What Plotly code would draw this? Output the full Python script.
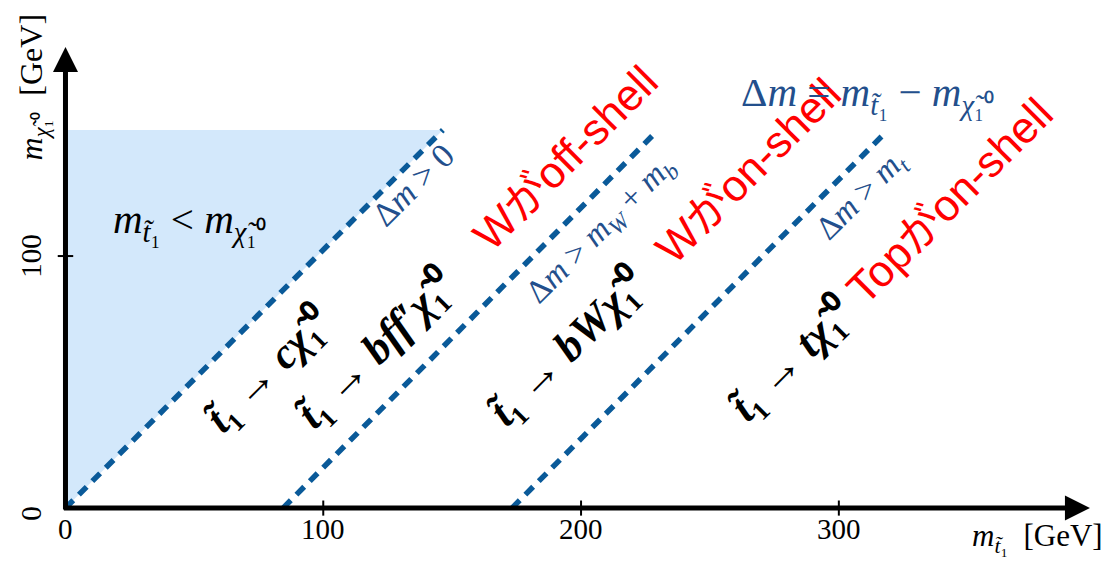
import plotly.graph_objects as go

# ---- data (GeV) ----
x_ticks = [0, 100, 200, 300]
x_tick_labels = ["0", "100", "200", "300"]
y_ticks = [0, 100]
y_tick_labels = ["0", "100"]

region_x = [0, 0, 146.4]
region_y = [0, 150, 150]

boundary_x0 = [0, 84.4, 173.2]
boundary_x1 = [146.4, 228.7, 317.9]
boundary_y1 = [150, 148.8, 148.8]

x_axis_end = 397.4
y_axis_end = 183.0

SERIF = "Liberation Serif"
SANS = "Liberation Sans, Noto Sans CJK JP"
BLUE_TXT = "#234f8c"
LINE_BLUE = "#0a5a99"
FILL = "#d3e8fb"
RED = "#ff0000"

fig = go.Figure()

# shaded region m_stop < m_chi
fig.add_trace(go.Scatter(x=region_x + [region_x[0]], y=region_y + [region_y[0]],
                         fill="toself", fillcolor=FILL, mode="none",
                         hoverinfo="skip", showlegend=False))

# kinematic boundaries
for x0, x1, y1 in zip(boundary_x0, boundary_x1, boundary_y1):
    fig.add_trace(go.Scatter(x=[x0, x1], y=[0, y1], mode="lines",
                             line=dict(color=LINE_BLUE, width=5.5, dash="11px,8px"),
                             hoverinfo="skip", showlegend=False))

# tick marks
for t in x_ticks[1:]:
    fig.add_trace(go.Scatter(x=[t, t], y=[-3, 3], mode="lines",
                             line=dict(color="black", width=2),
                             hoverinfo="skip", showlegend=False))
for t in y_ticks[1:]:
    fig.add_trace(go.Scatter(x=[-3, 3], y=[t, t], mode="lines",
                             line=dict(color="black", width=2),
                             hoverinfo="skip", showlegend=False))

annotations = []

# axes with arrows
annotations.append(dict(x=x_axis_end, y=0, ax=-1.2, ay=0, xref="x", yref="y",
                        axref="x", ayref="y", showarrow=True, arrowhead=2,
                        arrowsize=1.0, arrowwidth=5, arrowcolor="black", text=""))
annotations.append(dict(x=0, y=y_axis_end, ax=0, ay=-1.2, xref="x", yref="y",
                        axref="x", ayref="y", showarrow=True, arrowhead=2,
                        arrowsize=1.0, arrowwidth=5, arrowcolor="black", text=""))

# tick labels
for t, lab in zip(x_ticks, x_tick_labels):
    annotations.append(dict(x=t, y=-8.5, text=lab, showarrow=False,
                            font=dict(family=SERIF, size=29, color="black")))
for t, lab in zip(y_ticks, y_tick_labels):
    yy = t if t > 0 else -2.0
    annotations.append(dict(x=-13.5, y=yy, text=lab, showarrow=False, textangle=-90,
                            font=dict(family=SERIF, size=29, color="black")))

# axis titles
annotations.append(dict(x=377, y=-12.0,
                        text="<i>m</i><sub><i>t̃</i>₁</sub>  [GeV]",
                        showarrow=False, font=dict(family=SERIF, size=31, color="black")))
annotations.append(dict(x=-12.5, y=167,
                        text="<i>m</i><sub><i>χ̃</i>₁⁰</sub>  [GeV]",
                        showarrow=False, textangle=-90,
                        font=dict(family=SERIF, size=32, color="black")))

def add(x, y, text, size, color, family=SERIF, angle=-45):
    annotations.append(dict(x=x, y=y, text=text, showarrow=False, textangle=angle,
                            xanchor="center", yanchor="middle",
                            font=dict(family=family, size=size, color=color)))

add(48, 113.5, "<i>m</i><sub><i>t̃</i>₁</sub> &lt; <i>m</i><sub><i>χ̃</i>₁⁰</sub>",
    41, "black", angle=0)
add(135, 128.5, "Δ<i>m</i> &gt; 0", 34, BLUE_TXT)
add(78.5, 55, "<b><i>t̃</i>₁ → <i>cχ̃</i>₁⁰</b>", 43, "black")
add(120.5, 63.5, "<b><i>t̃</i>₁ → <i>bff′χ̃</i>₁⁰</b>", 44, "black")
add(194, 139, "Wがoff-shell", 44, RED, family=SANS)
add(208, 110, "Δ<i>m</i> &gt; <i>m<sub>W</sub></i> + <i>m<sub>b</sub></i>", 33, BLUE_TXT)
add(195, 64, "<b><i>t̃</i>₁ → <i>bWχ̃</i>₁⁰</b>", 44, "black")
add(264.7, 134, "Wがon-shell", 44, RED, family=SANS)
add(311, 164, "Δ<i>m</i> = <i>m</i><sub><i>t̃</i>₁</sub> − <i>m</i><sub><i>χ̃</i>₁⁰</sub>",
    41, BLUE_TXT, angle=0)
add(309, 123.5, "Δ<i>m</i> &gt; <i>m<sub>t</sub></i>", 33, BLUE_TXT)
add(281.5, 59, "<b><i>t̃</i>₁ → <i>tχ̃</i>₁⁰</b>", 44, "black")
add(343, 122, "Topがon-shell", 44, RED, family=SANS)

fig.update_layout(
    width=1109, height=562,
    margin=dict(l=0, r=0, t=0, b=0),
    paper_bgcolor="white", plot_bgcolor="white",
    xaxis=dict(range=[-25.4, 404.8], visible=False, fixedrange=True),
    yaxis=dict(range=[-21.4, 201.6], visible=False, fixedrange=True),
    annotations=annotations,
    showlegend=False,
)

fig.write_html("out.html")
